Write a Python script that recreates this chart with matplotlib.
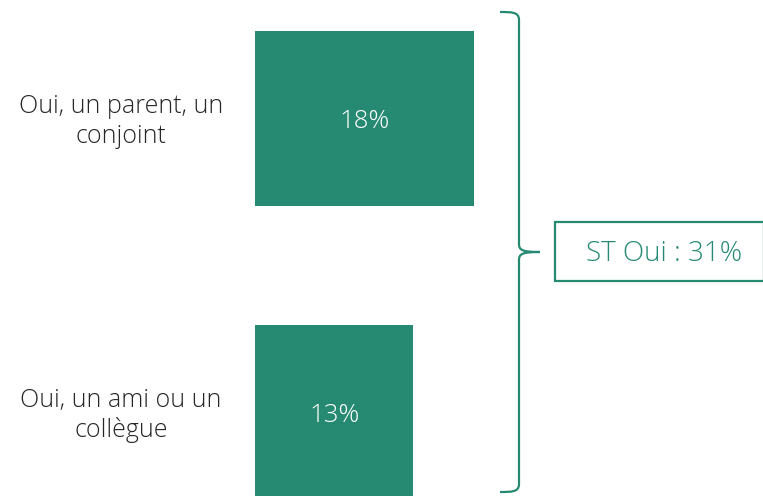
import matplotlib
matplotlib.use("Agg")
import matplotlib.pyplot as plt
from matplotlib.path import Path
from matplotlib.patches import PathPatch, Rectangle
from matplotlib.transforms import blended_transform_factory

categories = ["Oui, un parent, un\nconjoint", "Oui, un ami ou un\ncollègue"]
values = [18, 13]
total_label = "ST Oui : {}%"

GREEN = "#268A73"
W, H = 763, 496
fig = plt.figure(figsize=(W / 100, H / 100), dpi=100)
fig.patch.set_facecolor("white")

# axes spanning x 255..763 px, full height
ax = fig.add_axes([255 / W, 0, (W - 255) / W, 1])
px_per_unit = 12.17
ax.set_xlim(0, (W - 255) / px_per_unit)
ax.set_ylim(1.284, -0.403)
ax.axis("off")

ypos = list(range(len(values)))
ax.barh(ypos, values, height=0.595, color=GREEN, left=0)
for y, v in zip(ypos, values):
    ax.text(v / 2, y + 0.01, f"{v}%", ha="center", va="center", color="white",
            fontsize=18.5, family="Open Sans", fontweight="light")

tr = blended_transform_factory(fig.transFigure, ax.transData)
for y, c in zip(ypos, categories):
    ax.text(121 / W, y + 0.01, c, transform=tr, ha="center", va="center",
            multialignment="center", color="#262626", fontsize=18,
            family="Open Sans", fontweight="light", linespacing=1.25)

# bracket in pixel coordinates
def P(x, y):
    return (x / W, 1 - y / H)

verts = [P(500, 12), P(512, 12), P(519, 12), P(519, 20),
         P(519, 244),
         P(519, 250), P(522, 252), P(540, 252),
         P(540, 252), P(522, 252), P(519, 254), P(519, 260),
         P(519, 484),
         P(519, 492), P(512, 492), P(500, 492)]
codes = [Path.MOVETO, Path.CURVE4, Path.CURVE4, Path.CURVE4,
         Path.LINETO,
         Path.CURVE4, Path.CURVE4, Path.CURVE4,
         Path.MOVETO, Path.CURVE4, Path.CURVE4, Path.CURVE4,
         Path.LINETO,
         Path.CURVE4, Path.CURVE4, Path.CURVE4]
fig.add_artist(PathPatch(Path(verts, codes), transform=fig.transFigure,
                         fill=False, edgecolor=GREEN, lw=1.6))

# total box
x0, y0, x1, y1 = 555, 222, 764, 281
fig.add_artist(Rectangle(P(x0, y1), (x1 - x0) / W, (y1 - y0) / H,
                         transform=fig.transFigure, fill=False,
                         edgecolor=GREEN, lw=1.6))
fig.text(664 / W, 1 - 254 / H, total_label.format(sum(values)),
         ha="center", va="center", color=GREEN, fontsize=20,
         family="Open Sans", fontweight="light")

fig.savefig("out.png", dpi=100, facecolor="white")
